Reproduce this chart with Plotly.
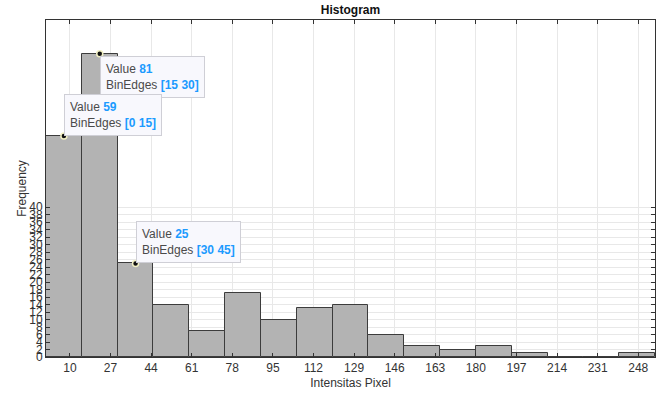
import plotly.graph_objects as go

# Histogram of pixel intensities: 17 bins of width 15 from 0 to 255
bin_edges = [0, 15, 30, 45, 60, 75, 90, 105, 120, 135, 150, 165, 180, 195, 210, 225, 240, 255]
counts = [59, 81, 25, 14, 7, 17, 10, 13, 14, 6, 3, 2, 3, 1, 0, 0, 1]

x_ticks = [10, 27, 44, 61, 78, 95, 112, 129, 146, 163, 180, 197, 214, 231, 248]
y_ticks = list(range(0, 41, 2))

# bins with data tips
tip_bins = [1, 0, 2]
tip_anchor = {0: "bottom", 1: "top", 2: "bottom"}

centers = [(bin_edges[i] + bin_edges[i + 1]) / 2 for i in range(len(counts))]
widths = [bin_edges[i + 1] - bin_edges[i] for i in range(len(counts))]

FONT = "Liberation Sans, Arial, Helvetica, sans-serif"
BLUE = "#1c9bff"

fig = go.Figure()
fig.add_trace(go.Bar(
    x=centers, y=counts, width=widths,
    marker=dict(color="#b3b3b3", line=dict(color="#3c3c3c", width=1)),
    hoverinfo="skip", showlegend=False,
))

fig.add_trace(go.Scatter(
    x=[centers[i] for i in tip_bins], y=[counts[i] for i in tip_bins],
    mode="markers",
    marker=dict(color="#111111", size=6, line=dict(color="#f2f0c4", width=1.5)),
    hoverinfo="skip", showlegend=False,
))

for i in tip_bins:
    txt = (f"Value <span style='color:{BLUE}'><b>{counts[i]}</b></span><br>"
           f"BinEdges <span style='color:{BLUE}'><b>[{bin_edges[i]} {bin_edges[i+1]}]</b></span>")
    fig.add_annotation(
        x=centers[i], y=counts[i], xref="x", yref="y",
        text=txt, showarrow=False, align="left",
        xanchor="left", yanchor=tip_anchor[i],
        xshift=0, yshift=-2 if tip_anchor[i] == "top" else 0,
        font=dict(family=FONT, size=12, color="#4a4a4a"),
        bgcolor="#f8f8fd", bordercolor="#cfcfd6", borderwidth=1, borderpad=5,
    )

fig.update_layout(
    width=662, height=395,
    margin=dict(l=46, r=7, t=20, b=38),
    paper_bgcolor="white", plot_bgcolor="white",
    font=dict(family=FONT, size=12, color="#262626"),
    title=dict(text="<b>Histogram</b>", x=(46 + 655) / 2 / 662, xanchor="center",
               y=1 - 10 / 395, yanchor="middle", font=dict(size=12, color="#111111")),
    bargap=0,
)

fig.update_xaxes(
    range=[0, 255], tickvals=x_ticks, ticktext=[str(v) for v in x_ticks],
    showgrid=True, gridcolor="#e8e8e8", gridwidth=1,
    showline=True, linecolor="#333333", linewidth=1, mirror="ticks",
    ticks="inside", ticklen=4, tickcolor="#333333",
    tickfont=dict(size=12, color="#333333"),
    title=dict(text="Intensitas Pixel", font=dict(size=12, color="#333333"), standoff=4),
    zeroline=False,
)
fig.update_yaxes(
    range=[0, 90], tickvals=y_ticks, ticktext=[str(v) for v in y_ticks],
    showgrid=True, gridcolor="#e8e8e8", gridwidth=1,
    showline=True, linecolor="#333333", linewidth=1, mirror="ticks",
    ticks="inside", ticklen=4, tickcolor="#333333",
    tickfont=dict(size=12, color="#333333"),
    title=dict(text="Frequency", font=dict(size=12, color="#333333"), standoff=0),
    zeroline=False,
)

fig.write_html("out.html")
